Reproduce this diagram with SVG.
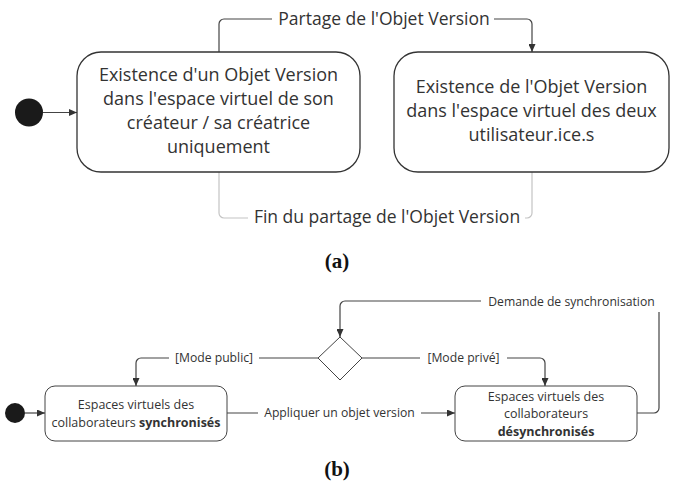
<svg xmlns="http://www.w3.org/2000/svg" width="675" height="485" viewBox="0 0 675 485">
<style>
.box{fill:#fff;stroke:#333;stroke-width:1.3}
.box2{fill:#fff;stroke:#444;stroke-width:1}
.t{font-family:"Open Sans","Noto Sans",sans-serif;fill:#333;text-anchor:middle}
.big{font-size:18px}
.lbl{font-size:17.5px}
.sm{font-size:12.5px}
.lb{font-size:12.2px}
.b{font-weight:bold}
.conn{fill:none;stroke:#444;stroke-width:1.2}
.gray{fill:none;stroke:#c4c4c4;stroke-width:1.2}
.bg{fill:#fff}
.cap{font-family:"Liberation Serif",serif;font-weight:bold;font-size:21px;fill:#111;text-anchor:middle}
</style>
<defs>
<marker id="ah" viewBox="0 0 8 7" markerWidth="8" markerHeight="7" refX="8" refY="3.5" orient="auto" markerUnits="userSpaceOnUse">
<path d="M0,0 L8,3.5 L0,7 z" fill="#333"/>
</marker>
</defs>

<g id="connectors">
<line class="conn" x1="43" y1="112.5" x2="77" y2="112.5" marker-end="url(#ah)"/>
<path class="conn" d="M219 52 V24 A5 5 0 0 1 224 19 H527 A5 5 0 0 1 532 24 V52" marker-end="url(#ah)"/>
<rect class="bg" x="272" y="8" width="222" height="22"/>
<text class="t lbl" x="384" y="25">Partage de l'Objet Version</text>
<path class="gray" d="M532 172 V213 A5 5 0 0 1 527 218 H224 A5 5 0 0 1 219 213 V172"/>
<rect class="bg" x="248" y="206" width="277" height="22"/>
<text class="t lbl" x="387" y="223">Fin du partage de l'Objet Version</text>

<line class="conn" x1="25" y1="413" x2="45" y2="413" marker-end="url(#ah)"/>
<line class="conn" x1="227" y1="413" x2="455" y2="413" marker-end="url(#ah)"/>
<rect class="bg" x="258" y="404" width="163" height="18"/>
<text class="t lb" x="339.5" y="417">Appliquer un objet version</text>
<path class="conn" d="M318 358 H141 A5 5 0 0 0 136 363 V386" marker-end="url(#ah)"/>
<rect class="bg" x="169" y="349" width="90" height="18"/>
<text class="t lb" x="214" y="362">[Mode public]</text>
<path class="conn" d="M362 358 H540 A5 5 0 0 1 545 363 V386" marker-end="url(#ah)"/>
<rect class="bg" x="420" y="349" width="87" height="18"/>
<text class="t lb" x="463.5" y="362">[Mode privé]</text>
<path class="conn" d="M637 413 H654 A5 5 0 0 0 659 408 V306 A5 5 0 0 0 654 301 H345 A5 5 0 0 0 340 306 V337" marker-end="url(#ah)"/>
<rect class="bg" x="481" y="292" width="181" height="20"/>
<text class="t lb" x="571.5" y="305.5">Demande de synchronisation</text>
</g>

<g id="start1"><circle cx="29" cy="112.5" r="14" fill="#1a1a1a"/></g>
<g id="state1">
<rect class="box" x="77" y="52" width="283" height="120" rx="24"/>
<text class="t big" x="218.5" y="81">Existence d'un Objet Version</text>
<text class="t big" x="218.5" y="105">dans l'espace virtuel de son</text>
<text class="t big" x="218.5" y="129">créateur / sa créatrice</text>
<text class="t big" x="218.5" y="153">uniquement</text>
</g>
<g id="state2">
<rect class="box" x="394" y="52" width="275" height="120" rx="24"/>
<text class="t big" x="531.5" y="93">Existence de l'Objet Version</text>
<text class="t big" x="531.5" y="117">dans l'espace virtuel des deux</text>
<text class="t big" x="531.5" y="141">utilisateur.ice.s</text>
</g>
<text class="cap" x="337" y="268">(a)</text>

<g id="start2"><circle cx="15" cy="413" r="10" fill="#1a1a1a"/></g>
<g id="decision"><polygon points="340,337 362,358 340,380 318,358" fill="#fff" stroke="#444" stroke-width="1"/></g>
<g id="state3">
<rect class="box2" x="45" y="386" width="182" height="55" rx="10"/>
<text class="t sm" x="136" y="409">Espaces virtuels des</text>
<text class="t sm" x="136" y="427">collaborateurs <tspan class="b">synchronisés</tspan></text>
</g>
<g id="state4">
<rect class="box2" x="455" y="386" width="182" height="55" rx="10"/>
<text class="t sm" x="546" y="400.5">Espaces virtuels des</text>
<text class="t sm" x="546" y="418">collaborateurs</text>
<text class="t sm b" x="546" y="435.5">désynchronisés</text>
</g>
<text class="cap" x="337" y="476">(b)</text>
</svg>
